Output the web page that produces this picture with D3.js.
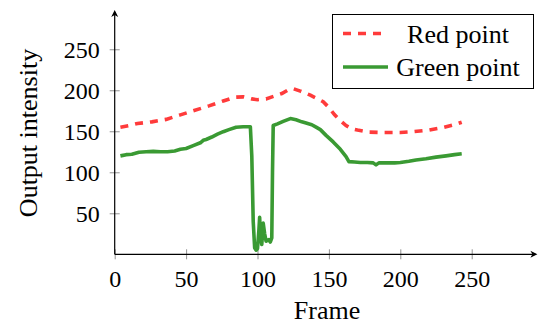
<!DOCTYPE html>
<html>
<head>
<meta charset="utf-8">
<script src="https://cdn.jsdelivr.net/npm/d3@7"></script>
<style>
  body { margin: 0; background: #fff; }
</style>
</head>
<body>
<svg></svg>
<script>
const width = 540;
const height = 325;
const serif = 'Liberation Serif, DejaVu Serif, serif';

// DATA
const redFrames = [4, 10, 16, 26, 36, 46, 55, 66, 76, 84, 90, 96, 100, 106, 112, 117, 122, 125, 130, 137,
                   146, 150, 154, 158, 162, 166, 170, 178, 189, 200, 209, 220, 230, 238, 243];
const redValues = [155, 157, 159.5, 161.5, 164.5, 170, 175, 181, 187, 191.5, 192, 189.5, 188.5, 189.5, 193,
                   196, 201, 202, 199, 194, 186, 179, 170, 163, 157, 153, 151.5, 149, 148.5, 148.5, 149.5,
                   151.5, 154.5, 158, 161];

const greenFrames = [4, 8, 12, 17, 22, 27, 32, 37, 42, 46, 50, 55, 60, 62, 64, 68, 72, 76, 80, 85, 90, 95,
                     96, 97, 98, 99, 100, 101, 101.5, 102, 103, 104, 105, 106, 107, 108, 109, 110, 110.5,
                     111, 114, 118, 123, 127, 131, 134, 138, 141, 144, 148, 153, 158, 162, 164, 168, 172,
                     177, 181, 183, 185, 190, 196, 200, 206, 211, 218, 225, 232, 238, 243];
const greenValues = [120, 121.5, 122, 124.5, 125, 125.5, 125, 125, 126, 128, 129, 132.5, 136, 139, 140, 143,
                     146.5, 149.5, 152, 155, 155.5, 155.5, 120, 40, 8, 5, 7, 30, 45, 25, 12, 38, 25, 16, 17,
                     18, 15, 20, 100, 157, 159, 162, 165.5, 164, 161.5, 160, 158, 155, 152, 145, 137, 128,
                     119, 113, 112.5, 112, 112, 111.5, 109, 111.5, 111.5, 111.5, 112, 113.5, 115, 116.5,
                     118.5, 120, 121.5, 122.5];

const xTicks = [0, 50, 100, 150, 200, 250];
const yTicks = [50, 100, 150, 200, 250];

const seriesNames = ['Red point', 'Green point'];
const seriesColors = ['#ff3b3b', '#3a9a33'];

const redData = redFrames.map((f, i) => ({ x: f, y: redValues[i] }));
const greenData = greenFrames.map((f, i) => ({ x: f, y: greenValues[i] }));

// SCALES
const xScale = d3.scaleLinear()
                 .domain([0, 296])
                 .range([114.7, 537.4]);
const yScale = d3.scaleLinear()
                 .domain([0, 298])
                 .range([254.3, 9.9]);

const svg = d3.select('svg')
              .attr('width', width)
              .attr('height', height);

// AXES
const xAxis = d3.axisBottom(xScale).tickValues(xTicks).tickSize(5).tickSizeOuter(0).tickPadding(0);
const yAxis = d3.axisLeft(yScale).tickValues(yTicks).tickSize(5).tickSizeOuter(0).tickPadding(0);

const gx = svg.append('g')
    .attr('transform', `translate(0, ${yScale(0)})`)
    .call(xAxis)
    .attr('font-family', serif)
    .attr('font-size', 24);
gx.select('.domain').remove();
gx.selectAll('.tick line').attr('y1', -5).attr('y2', 5).attr('stroke', '#777').attr('stroke-width', 0.8);
gx.selectAll('.tick text')
    .attr('y', 33)
    .attr('dy', 0)
    .attr('fill', '#000');

const gy = svg.append('g')
    .attr('transform', `translate(${xScale(0)}, 0)`)
    .call(yAxis)
    .attr('font-family', serif)
    .attr('font-size', 24);
gy.select('.domain').remove();
gy.selectAll('.tick line').attr('x1', -5).attr('x2', 5).attr('stroke', '#777').attr('stroke-width', 0.8);
gy.selectAll('.tick text')
    .attr('x', -15)
    .attr('dy', '0.33em')
    .attr('fill', '#000');

// axis lines with arrows
const x0 = xScale(0), y0 = yScale(0);
const xEnd = xScale.range()[1], yEnd = yScale.range()[1];
svg.append('line')
    .attr('x1', x0).attr('y1', y0).attr('x2', xEnd - 2).attr('y2', y0)
    .attr('stroke', '#000').attr('stroke-width', 1.2);
svg.append('line')
    .attr('x1', x0).attr('y1', y0).attr('x2', x0).attr('y2', yEnd + 2)
    .attr('stroke', '#000').attr('stroke-width', 1.2);
svg.append('path')
    .attr('d', `M${xEnd},${y0} L${xEnd - 7},${y0 - 3.5} L${xEnd - 5},${y0} L${xEnd - 7},${y0 + 3.5} Z`)
    .attr('fill', '#000');
svg.append('path')
    .attr('d', `M${x0},${yEnd} L${x0 - 3.5},${yEnd + 7} L${x0},${yEnd + 5} L${x0 + 3.5},${yEnd + 7} Z`)
    .attr('fill', '#000');

// LINES
const line = d3.line()
    .x(d => xScale(d.x))
    .y(d => yScale(d.y));

svg.append('path')
    .datum(redData)
    .attr('d', line)
    .attr('fill', 'none')
    .attr('stroke', seriesColors[0])
    .attr('stroke-width', 3.6)
    .attr('stroke-dasharray', '8,7');

svg.append('path')
    .datum(greenData)
    .attr('d', line)
    .attr('fill', 'none')
    .attr('stroke', seriesColors[1])
    .attr('stroke-width', 3.6)
    .attr('stroke-linejoin', 'round');

// AXIS LABELS
svg.append('text')
    .attr('x', 327)
    .attr('y', 319)
    .attr('text-anchor', 'middle')
    .attr('font-family', serif)
    .attr('font-size', 26)
    .text('Frame');

svg.append('text')
    .attr('transform', 'rotate(-90)')
    .attr('x', -133)
    .attr('y', 37)
    .attr('text-anchor', 'middle')
    .attr('font-family', serif)
    .attr('font-size', 26)
    .text('Output intensity');

// LEGEND
const legend = svg.append('g')
    .attr('font-family', serif)
    .attr('font-size', 26);
legend.append('rect')
    .attr('x', 332.5).attr('y', 14.5)
    .attr('width', 201).attr('height', 74)
    .attr('fill', '#fff')
    .attr('stroke', '#000')
    .attr('stroke-width', 1);

seriesNames.forEach((name, i) => {
    const cy = 33.5 + i * 33.5;
    legend.append('line')
        .attr('x1', 343).attr('x2', 388)
        .attr('y1', cy).attr('y2', cy)
        .attr('stroke', seriesColors[i])
        .attr('stroke-width', 3.6)
        .attr('stroke-dasharray', i === 0 ? '8,7' : null);
    legend.append('text')
        .attr('x', 458)
        .attr('y', cy + 9)
        .attr('text-anchor', 'middle')
        .text(name);
});
</script>
</body>
</html>
